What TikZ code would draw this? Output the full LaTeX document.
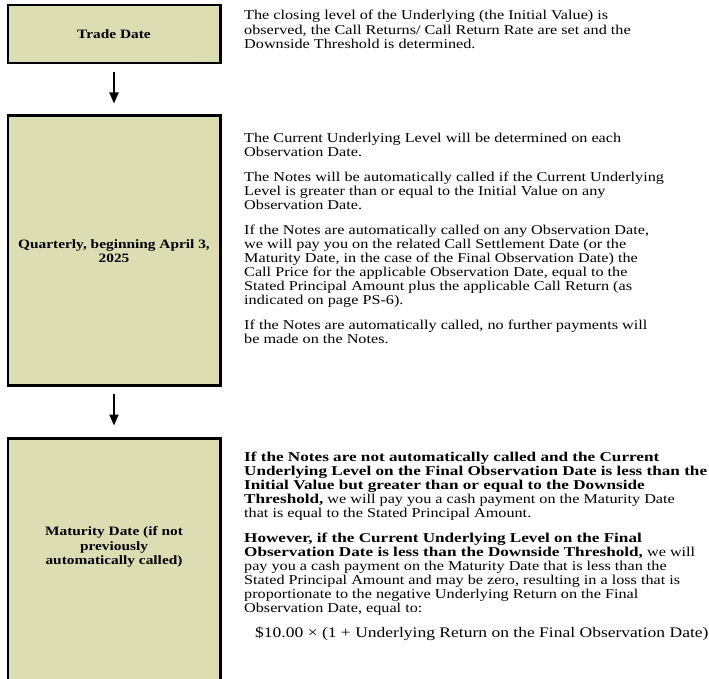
\documentclass[tikz,border=0pt]{standalone}
\usepackage{fontspec}
\setmainfont[FakeStretch=1.2]{Liberation Serif}
\newfontfamily\wideboldfont[FakeStretch=1.27]{Liberation Serif}
\newcommand{\wb}[1]{{\wideboldfont\bfseries #1}}
\usetikzlibrary{arrows.meta}
\definecolor{boxfill}{RGB}{221,221,180}
\begin{document}
\begin{tikzpicture}[x=1pt,y=-1pt,
  stagebox/.style={draw=black,line width=2.4pt,fill=boxfill},
  stagelabel/.style={font=\fontsize{12.8}{14.5}\selectfont\bfseries,align=center,inner sep=0pt},
  desc/.style={font=\fontsize{13.5}{14}\selectfont,align=left,anchor=north west,inner sep=0pt},
  flow/.style={line width=1.8pt,-{Triangle[width=9pt,length=11pt]}}]
\useasboundingbox (0,0) rectangle (709,679);
% boxes
\draw[stagebox] (8,5.2) rectangle (220.3,63);
\draw[stagebox] (8,115.7) rectangle (220.3,385.5);
\draw[stagebox] (8,438.3) rectangle (220.3,700);
% connector ends between the boxes
\coordinate (b1s) at (114,72);
\coordinate (b2n) at (114,103.5);
\coordinate (b2s) at (114,394);
\coordinate (b3n) at (114,425.5);
\draw[flow] (b1s) -- (b2n);
\draw[flow] (b2s) -- (b3n);
% labels
\node[stagelabel] (l1) at (114,34) {Trade Date};
\node[stagelabel] (l2) at (114,251) {Quarterly, beginning April 3,\\2025};
\node[stagelabel] (l3) at (114,547) {Maturity Date (if not\\previously\\automatically called)};
% descriptions
\node[desc,font=\fontsize{13.5}{14.5}\selectfont] (d1) at (244,9.5) {\strut The closing level of the Underlying (the Initial Value) is\\
observed, the Call Returns/ Call Return Rate are set and the\\
Downside Threshold is determined.};
\node[desc] (d2) at (244,132) {\strut The Current Underlying Level will be determined on each\\
Observation Date.\\[11pt]
The Notes will be automatically called if the Current Underlying\\
Level is greater than or equal to the Initial Value on any\\
Observation Date.\\[11pt]
If the Notes are automatically called on any Observation Date,\\
we will pay you on the related Call Settlement Date (or the\\
Maturity Date, in the case of the Final Observation Date) the\\
Call Price for the applicable Observation Date, equal to the\\
Stated Principal Amount plus the applicable Call Return (as\\
indicated on page PS-6).\\[11pt]
If the Notes are automatically called, no further payments will\\
be made on the Notes.};
\node[desc] (d3) at (244,451.5) {\strut\wb{If the Notes are not automatically called and the Current}\\
\wb{Underlying Level on the Final Observation Date is less than the}\\
\wb{Initial Value but greater than or equal to the Downside}\\
\wb{Threshold,} we will pay you a cash payment on the Maturity Date\\
that is equal to the Stated Principal Amount.\\[11pt]
\wb{However, if the Current Underlying Level on the Final}\\
\wb{Observation Date is less than the Downside Threshold,} we will\\
pay you a cash payment on the Maturity Date that is less than the\\
Stated Principal Amount and may be zero, resulting in a loss that is\\
proportionate to the negative Underlying Return on the Final\\
Observation Date, equal to:\\[11pt]
\hspace*{11pt}{\fontsize{14.6}{14}\selectfont\$10.00 × (1 + Underlying Return on the Final Observation Date)}};
\end{tikzpicture}
\end{document}
